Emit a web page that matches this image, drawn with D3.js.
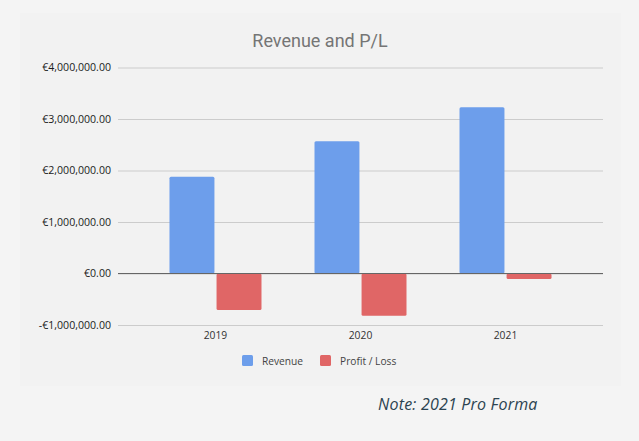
<!DOCTYPE html>
<html><head><meta charset="utf-8">
<script src="https://cdn.jsdelivr.net/npm/d3@7"></script>
<style>
html,body{margin:0;padding:0;background:#f4f4f4;}
svg{display:block;}
</style></head>
<body>
<svg id="chart" width="639" height="441"></svg>
<script>
const years = ["2019", "2020", "2021"];
const seriesNames = ["Revenue", "Profit / Loss"];
const revenue = [1880000, 2570000, 3230000];
const profitLoss = [-710000, -820000, -105000];
const yTicks = [-1000000, 0, 1000000, 2000000, 3000000, 4000000];
const colors = ["#6d9eeb", "#e06666"];

const svg = d3.select("#chart");
svg.append("rect").attr("x",0).attr("y",0).attr("width",639).attr("height",441).attr("fill","#f4f4f4");
svg.append("rect").attr("x",20).attr("y",13).attr("width",601).attr("height",373).attr("fill","#f2f2f2");

const left = 118, right = 603;
const y = d3.scaleLinear().domain([-1000000, 4000000]).range([325, 67.5]);
const x = d3.scaleBand().domain(years).range([left, right]).paddingInner(0.3655).paddingOuter(0.355);
const xs = d3.scaleBand().domain(seriesNames).range([0, x.bandwidth()]).paddingInner(0.045);

svg.append("text").attr("x", 320).attr("y", 47).attr("text-anchor","middle")
  .attr("font-family","Roboto, sans-serif").attr("font-size", 18).attr("fill","#757575")
  .text("Revenue and P/L");

const fmt = v => (v < 0 ? "-€" : "€") + d3.format(",.2f")(Math.abs(v));
const yAxis = d3.axisLeft(y).tickValues(yTicks).tickSize(-(right-left)).tickPadding(7).tickFormat(fmt);
const gy = svg.append("g").attr("transform", `translate(${left},0)`).call(yAxis);
gy.select(".domain").remove();
gy.selectAll(".tick line").attr("stroke","#cccccc").attr("stroke-width",1);
gy.selectAll(".tick text").attr("font-family","'Open Sans', sans-serif").attr("font-size",10.6).attr("fill","#1a1a1a");

const data = years.map((yr,i)=>({year:yr, vals:[revenue[i], profitLoss[i]]}));
const groups = svg.append("g").selectAll("g").data(data).join("g")
  .attr("transform", d => `translate(${x(d.year)},0)`);
groups.selectAll("rect").data(d => d.vals.map((v,j)=>({v, s:seriesNames[j], j}))).join("rect")
  .attr("x", d => xs(d.s))
  .attr("width", xs.bandwidth())
  .attr("y", d => y(Math.max(0,d.v)))
  .attr("height", d => Math.abs(y(d.v)-y(0)))
  .attr("rx", 1.5)
  .attr("fill", d => colors[d.j]);

// zero line
svg.append("line").attr("x1",left).attr("x2",right).attr("y1",y(0)).attr("y2",y(0))
  .attr("stroke","#666").attr("stroke-width",1.2);

const xAxis = d3.axisBottom(x).tickSize(0).tickPadding(0);
const gx = svg.append("g").attr("transform", `translate(0,332)`).call(xAxis);
gx.select(".domain").remove();
gx.selectAll(".tick text").attr("font-family","'Open Sans', sans-serif").attr("font-size",10.3).attr("fill","#333").attr("dy","0.71em");

const legendX = [242, 320];
const lg = svg.append("g").selectAll("g").data(seriesNames).join("g")
  .attr("transform", (d,i)=>`translate(${legendX[i]},355)`);
lg.append("rect").attr("width",11).attr("height",11).attr("rx",1.5).attr("fill",(d,i)=>colors[i]);
lg.append("text").attr("x",20).attr("y",9.5).attr("font-family","'Open Sans', sans-serif")
  .attr("font-size",10.2).attr("fill","#444").text(d=>d);

svg.append("text").attr("x",378).attr("y",410)
  .attr("font-family","'Open Sans', sans-serif").attr("font-style","italic").attr("font-size",16)
  .attr("letter-spacing",0.2).attr("fill","#2c4350").text("Note: 2021 Pro Forma");
</script>
</body></html>
